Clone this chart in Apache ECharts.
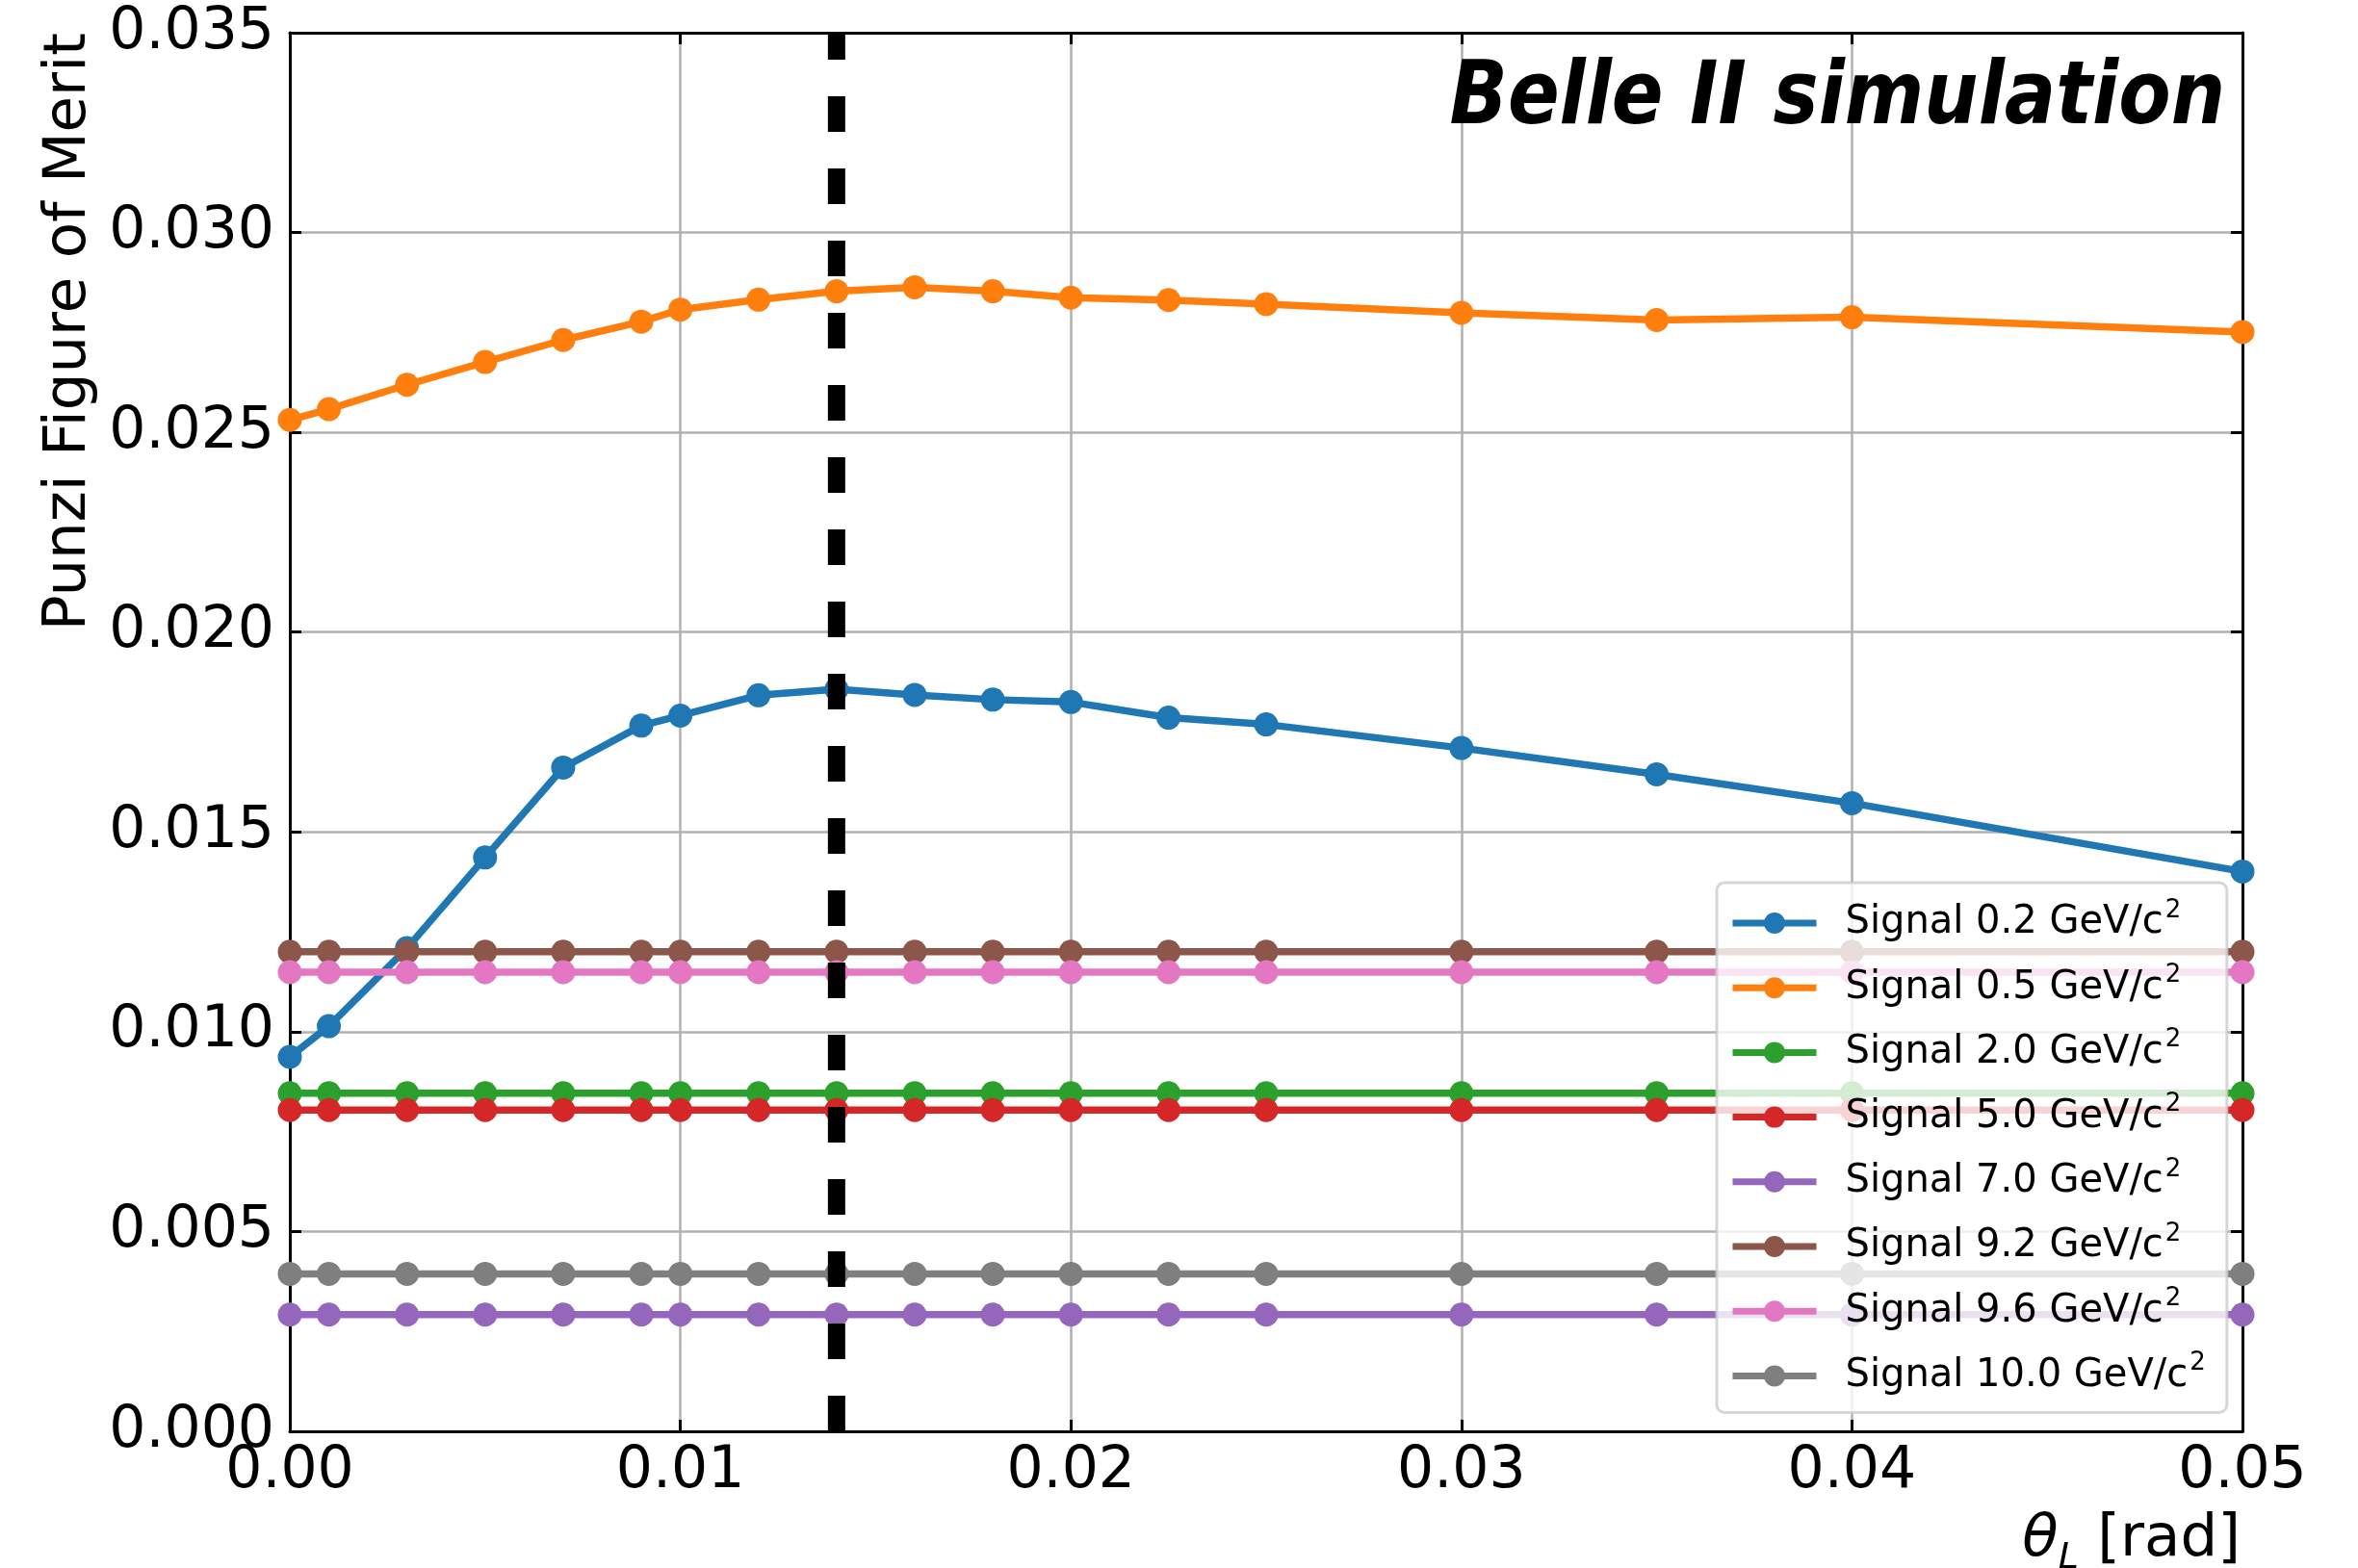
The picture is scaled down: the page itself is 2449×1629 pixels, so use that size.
<!DOCTYPE html>
<html><head><meta charset="utf-8">
<script src="https://cdn.jsdelivr.net/npm/echarts@6/dist/echarts.min.js"></script>
<style>html,body{margin:0;padding:0;background:#fff}#c{width:2449px;height:1629px}</style>
</head><body><div id="c"></div>
<script>
// ---- data ----
const thetaL = [0, 0.001, 0.003, 0.005, 0.007, 0.009, 0.010, 0.012, 0.014, 0.016, 0.018, 0.020, 0.0225, 0.025, 0.030, 0.035, 0.040, 0.050];
const sig02  = [0.00937, 0.01014, 0.01209, 0.01436, 0.01661, 0.01766, 0.01791, 0.01842, 0.01857, 0.01843, 0.01831, 0.01825, 0.01786, 0.01769, 0.01710, 0.01644, 0.01572, 0.01401];
const sig05  = [0.02531, 0.02558, 0.02619, 0.02676, 0.02731, 0.02777, 0.02807, 0.02832, 0.02853, 0.02863, 0.02853, 0.02837, 0.02831, 0.02821, 0.02799, 0.02781, 0.02788, 0.02751];
const sig20  = [0.00846, 0.00846, 0.00846, 0.00846, 0.00846, 0.00846, 0.00846, 0.00846, 0.00846, 0.00846, 0.00846, 0.00846, 0.00846, 0.00846, 0.00846, 0.00846, 0.00846, 0.00846];
const sig50  = [0.00804, 0.00804, 0.00804, 0.00804, 0.00804, 0.00804, 0.00804, 0.00804, 0.00804, 0.00804, 0.00804, 0.00804, 0.00804, 0.00804, 0.00804, 0.00804, 0.00804, 0.00804];
const sig70  = [0.00292, 0.00292, 0.00292, 0.00292, 0.00292, 0.00292, 0.00292, 0.00292, 0.00292, 0.00292, 0.00292, 0.00292, 0.00292, 0.00292, 0.00292, 0.00292, 0.00292, 0.00292];
const sig92  = [0.01200, 0.01200, 0.01200, 0.01200, 0.01200, 0.01200, 0.01200, 0.01200, 0.01200, 0.01200, 0.01200, 0.01200, 0.01200, 0.01200, 0.01200, 0.01200, 0.01200, 0.01200];
const sig96  = [0.01149, 0.01149, 0.01149, 0.01149, 0.01149, 0.01149, 0.01149, 0.01149, 0.01149, 0.01149, 0.01149, 0.01149, 0.01149, 0.01149, 0.01149, 0.01149, 0.01149, 0.01149];
const sig100 = [0.00394, 0.00394, 0.00394, 0.00394, 0.00394, 0.00394, 0.00394, 0.00394, 0.00394, 0.00394, 0.00394, 0.00394, 0.00394, 0.00394, 0.00394, 0.00394, 0.00394, 0.00394];
const massLabels = ['0.2', '0.5', '2.0', '5.0', '7.0', '9.2', '9.6', '10.0'];
const seriesValues = [sig02, sig05, sig20, sig50, sig70, sig92, sig96, sig100];
const seriesColors = ['#1f77b4', '#ff7f0e', '#2ca02c', '#d62728', '#9467bd', '#8c564b', '#e377c2', '#7f7f7f'];
const cutTheta = 0.014;
const xTicks = [0.00, 0.01, 0.02, 0.03, 0.04, 0.05];
const yTicks = [0.000, 0.005, 0.010, 0.015, 0.020, 0.025, 0.030, 0.035];

// ---- chart ----
const FONT = 'DejaVu Sans';
const chart = echarts.init(document.getElementById('c'), null, {renderer: 'canvas'});
const names = massLabels.map(m => 'Signal ' + m + ' GeV/c');

const series = seriesValues.map((vals, i) => ({
  name: names[i],
  type: 'line',
  data: thetaL.map((x, j) => [x, vals[j]]),
  symbol: 'circle',
  symbolSize: 25,
  color: seriesColors[i],
  lineStyle: {width: 7.5, color: seriesColors[i]},
  itemStyle: {color: seriesColors[i]},
  emphasis: {disabled: true},
  animation: false,
  z: 2
}));
series.push({
  name: 'cut',
  type: 'line',
  data: [[cutTheta, yTicks[0]], [cutTheta, yTicks[yTicks.length - 1]]],
  symbol: 'none',
  lineStyle: {width: 18, color: '#000', type: [37, 38], cap: 'butt'},
  emphasis: {disabled: true},
  animation: false,
  z: 10
});

const axisCommon = {
  type: 'value',
  axisLine: {show: true, onZero: false, lineStyle: {color: '#000', width: 3}},
  axisTick: {show: true, inside: true, length: 12, lineStyle: {color: '#000', width: 3}},
};

const option = {
  backgroundColor: '#fff',
  animation: false,
  grid: {left: 301, right: 120, top: 34, bottom: 142, containLabel: false},
  xAxis: [
    Object.assign({}, axisCommon, {
      position: 'bottom', min: xTicks[0], max: xTicks[xTicks.length - 1], interval: xTicks[1] - xTicks[0],
      axisLabel: {show: true, fontSize: 60, fontFamily: FONT, color: '#000', margin: 12, formatter: v => v.toFixed(2)},
      splitLine: {show: true, lineStyle: {color: '#b0b0b0', width: 2.5}}
    }),
    Object.assign({}, axisCommon, {
      position: 'top', min: xTicks[0], max: xTicks[xTicks.length - 1], interval: xTicks[1] - xTicks[0],
      axisLabel: {show: false}, splitLine: {show: false}
    })
  ],
  yAxis: [
    Object.assign({}, axisCommon, {
      position: 'left', min: yTicks[0], max: yTicks[yTicks.length - 1], interval: yTicks[1] - yTicks[0],
      axisLabel: {show: true, fontSize: 60, fontFamily: FONT, color: '#000', margin: 16, formatter: v => v.toFixed(3)},
      splitLine: {show: true, lineStyle: {color: '#b0b0b0', width: 2.5}}
    }),
    Object.assign({}, axisCommon, {
      position: 'right', min: yTicks[0], max: yTicks[yTicks.length - 1], interval: yTicks[1] - yTicks[0],
      axisLabel: {show: false}, splitLine: {show: false}
    })
  ],
  legend: {
    data: names,
    orient: 'vertical',
    left: 1783, top: 917,
    padding: [16, 22, 18, 13],
    itemGap: 21.2,
    itemWidth: 87,
    itemHeight: 27.5,
    backgroundColor: 'rgba(255,255,255,0.8)',
    borderColor: 'rgba(204,204,204,0.8)',
    borderWidth: 3,
    borderRadius: 8,
    selectedMode: false,
    lineStyle: {width: 7},
    formatter: n => '{a|' + n + '}{s|2}',
    textStyle: {
      color: '#000', fontFamily: FONT, fontSize: 40,
      rich: {
        a: {fontSize: 40, fontFamily: FONT, color: '#000', padding: [0, 0, 0, 25]},
        s: {fontSize: 26, fontFamily: FONT, color: '#000', padding: [0, 0, 26, 2]}
      }
    }
  },
  graphic: [
    {
      type: 'text', x: 2311, y: 104, scaleX: 0.87, z: 20,
      style: {text: 'Belle II simulation', fontFamily: FONT, fontWeight: 'bold', fontStyle: 'italic', fontSize: 91, fill: '#000', align: 'right', verticalAlign: 'middle'}
    },
    {
      type: 'text', x: 72, y: 34, rotation: Math.PI / 2, z: 20,
      style: {text: 'Punzi Figure of Merit', fontFamily: FONT, fontSize: 61, fill: '#000', align: 'right', verticalAlign: 'middle'}
    },
    {
      type: 'text', x: 2327, y: 1600, z: 20,
      style: {
        text: '{t|θ}{l|L}{n| [rad]}', align: 'right', verticalAlign: 'middle',
        rich: {
          t: {fontFamily: FONT, fontStyle: 'italic', fontSize: 61, fill: '#000'},
          l: {fontFamily: FONT, fontStyle: 'italic', fontSize: 38, fill: '#000', padding: [38, 0, 0, 0]},
          n: {fontFamily: FONT, fontSize: 61, fill: '#000'}
        }
      }
    }
  ],
  series: series
};
chart.setOption(option);
</script>
</body></html>
